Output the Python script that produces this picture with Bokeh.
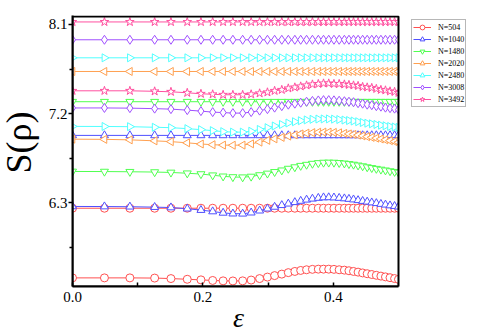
import math
from bokeh.plotting import figure
from bokeh.models import FixedTicker, Legend, LegendItem, BoxAnnotation, Label
from bokeh.embed import file_html
from bokeh.resources import INLINE

# epsilon sample points
eps = [0.0, 0.049, 0.088, 0.126, 0.151, 0.176, 0.197, 0.215, 0.231, 0.246,
       0.261, 0.274, 0.287, 0.299, 0.310, 0.321, 0.331, 0.341, 0.350, 0.359,
       0.368, 0.377, 0.385, 0.393, 0.401, 0.409, 0.417, 0.424, 0.431, 0.438,
       0.445, 0.452, 0.459, 0.466, 0.473, 0.480, 0.487, 0.494, 0.500]

labels = ["N=504", "N=1040", "N=1480", "N=2020", "N=2480", "N=3008", "N=3492"]

# constant (upper) branch for each N
flat_values = [6.245, 6.98, 7.32, 7.625, 7.763, 7.945, 8.125]

# varying branch for each N
var_504 = [5.542, 5.542, 5.542, 5.54, 5.535, 5.528, 5.522, 5.516, 5.512, 5.511,
           5.512, 5.52, 5.535, 5.55, 5.565, 5.58, 5.595, 5.607, 5.617, 5.624,
           5.628, 5.63, 5.63, 5.63, 5.628, 5.624, 5.62, 5.614, 5.607, 5.6,
           5.592, 5.584, 5.576, 5.568, 5.56, 5.552, 5.544, 5.535, 5.527]
var_1040 = [6.263, 6.262, 6.26, 6.256, 6.252, 6.24, 6.226, 6.212, 6.198, 6.19,
            6.189, 6.2, 6.22, 6.24, 6.258, 6.275, 6.29, 6.305, 6.318, 6.33,
            6.34, 6.348, 6.353, 6.354, 6.352, 6.348, 6.343, 6.338, 6.332, 6.325,
            6.317, 6.31, 6.302, 6.295, 6.287, 6.28, 6.272, 6.266, 6.26]
var_1480 = [6.616, 6.615, 6.613, 6.61, 6.606, 6.598, 6.59, 6.578, 6.567, 6.56,
            6.558, 6.565, 6.58, 6.596, 6.612, 6.628, 6.645, 6.66, 6.674, 6.685,
            6.695, 6.702, 6.706, 6.707, 6.706, 6.703, 6.698, 6.692, 6.686, 6.678,
            6.67, 6.66, 6.652, 6.644, 6.636, 6.628, 6.62, 6.613, 6.606]
var_2020 = [6.942, 6.94, 6.935, 6.925, 6.917, 6.905, 6.893, 6.886, 6.882, 6.881,
            6.882, 6.895, 6.912, 6.93, 6.945, 6.96, 6.973, 6.985, 6.995, 7.003,
            7.008, 7.012, 7.013, 7.013, 7.01, 7.006, 7.0, 6.995, 6.99, 6.983,
            6.975, 6.967, 6.96, 6.952, 6.944, 6.935, 6.927, 6.918, 6.91]
var_2480 = [7.071, 7.07, 7.068, 7.062, 7.058, 7.048, 7.038, 7.028, 7.018, 7.013,
            7.013, 7.022, 7.04, 7.058, 7.075, 7.09, 7.105, 7.118, 7.128, 7.136,
            7.142, 7.145, 7.146, 7.146, 7.144, 7.14, 7.135, 7.13, 7.125, 7.118,
            7.11, 7.103, 7.097, 7.09, 7.083, 7.077, 7.07, 7.065, 7.061]
var_3008 = [7.257, 7.257, 7.255, 7.25, 7.245, 7.235, 7.225, 7.215, 7.21, 7.205,
            7.205, 7.215, 7.23, 7.245, 7.26, 7.275, 7.29, 7.30, 7.31, 7.32,
            7.328, 7.333, 7.336, 7.336, 7.334, 7.33, 7.325, 7.32, 7.315, 7.305,
            7.30, 7.29, 7.285, 7.275, 7.27, 7.26, 7.255, 7.25, 7.24]
var_3492 = [7.43, 7.43, 7.43, 7.425, 7.42, 7.41, 7.40, 7.395, 7.39, 7.39,
            7.39, 7.395, 7.405, 7.415, 7.43, 7.44, 7.455, 7.465, 7.475, 7.485,
            7.495, 7.50, 7.505, 7.505, 7.50, 7.50, 7.495, 7.49, 7.485, 7.48,
            7.47, 7.465, 7.46, 7.45, 7.44, 7.435, 7.425, 7.42, 7.41]
varying = [var_504, var_1040, var_1480, var_2020, var_2480, var_3008, var_3492]

colors = ["#ff5050", "#5050ff", "#50ff50", "#ffa050", "#50ffff", "#a050ff", "#ff50a0"]
markers = ["circle", "triangle", "inverted_triangle", "triangle", "triangle", "diamond", "star"]
angles = [0, 0, 0, math.pi / 2, -math.pi / 2, 0, 0]
sizes = [8, 8, 8, 8, 8, 9, 9]

X_MIN, X_MAX = 0.0, 0.5
Y_MIN, Y_MAX = 5.455, 8.18

SERIF = "Liberation Serif"

# frame extends to the right so the legend can sit beside the plotted box
p = figure(width=480, height=336, output_backend="svg", toolbar_location=None,
           x_range=(X_MIN, 0.6043), y_range=(Y_MIN, 8.19),
           min_border_left=72, min_border_right=14, min_border_top=15, min_border_bottom=50)
p.grid.visible = False
p.outline_line_color = None

items = []
for i in range(len(labels)):
    c = colors[i]
    flat = [flat_values[i]] * len(eps)
    lr = p.line(eps, flat, line_color=c, line_width=1)
    sr = p.scatter(eps, flat, marker=markers[i], size=sizes[i], angle=angles[i],
                   line_color=c, fill_color="white", line_width=1)
    p.line(eps, varying[i], line_color=c, line_width=1)
    p.scatter(eps, varying[i], marker=markers[i], size=sizes[i], angle=angles[i],
              line_color=c, fill_color="white", line_width=1)
    items.append(LegendItem(label=labels[i], renderers=[lr, sr]))

# mask right of the plotted box and draw the box border
p.add_layout(BoxAnnotation(left=X_MAX, fill_color="white", fill_alpha=1.0, line_alpha=0))
p.add_layout(BoxAnnotation(left=X_MIN, right=X_MAX, bottom=Y_MIN, top=Y_MAX,
                           fill_alpha=0, line_color="black", line_width=2, line_alpha=1))

# axes
p.xaxis.bounds = (X_MIN, X_MAX)
p.xaxis.ticker = FixedTicker(ticks=[0.0, 0.2, 0.4], minor_ticks=[0.1, 0.3, 0.5])
p.yaxis.ticker = FixedTicker(ticks=[6.3, 7.2, 8.1], minor_ticks=[5.85, 6.75, 7.65])
p.xaxis.major_label_overrides = {0.0: "0.0", 0.2: "0.2", 0.4: "0.4"}
p.yaxis.major_label_overrides = {6.3: "6.3", 7.2: "7.2", 8.1: "8.1"}
for ax in (p.xaxis, p.yaxis):
    ax.axis_line_width = 2
    ax.axis_line_color = "black"
    ax.major_tick_line_color = "black"
    ax.minor_tick_line_color = "black"
    ax.major_tick_line_width = 1.5
    ax.minor_tick_line_width = 1.5
    ax.major_label_text_font = SERIF
    ax.major_label_text_font_size = "15px"
    ax.major_label_text_color = "black"
p.xaxis.major_tick_in = 4
p.xaxis.major_tick_out = 0
p.xaxis.minor_tick_in = 4
p.xaxis.minor_tick_out = 0
p.xaxis.major_label_standoff = 5
p.yaxis.major_tick_in = 0
p.yaxis.major_tick_out = 4
p.yaxis.minor_tick_in = 0
p.yaxis.minor_tick_out = 3
p.yaxis.major_label_standoff = 1

# axis titles placed in side panels (side-panel annotations are not clipped)
p.add_layout(Label(x=13, y=144, x_units="screen", y_units="screen", text="S(ρ)",
                   angle=math.pi / 2, text_align="center", text_baseline="middle",
                   text_font=SERIF, text_font_size="36px", text_color="black"), "left")
p.add_layout(Label(x=-228, y=-31, x_units="screen", y_units="screen", text="ε",
                   text_align="center", text_baseline="middle", text_font_style="italic",
                   text_font=SERIF, text_font_size="28px", text_color="black"), "right")

legend = Legend(items=items, location=(339, 179), padding=1, spacing=0,
                glyph_width=18, glyph_height=12, label_height=9, label_standoff=7,
                label_text_font=SERIF, label_text_font_size="8px",
                label_text_color="black",
                border_line_color="#707070", border_line_width=1,
                background_fill_color="white", margin=0)
p.add_layout(legend)

open("out.html", "w").write(file_html(p, INLINE))
